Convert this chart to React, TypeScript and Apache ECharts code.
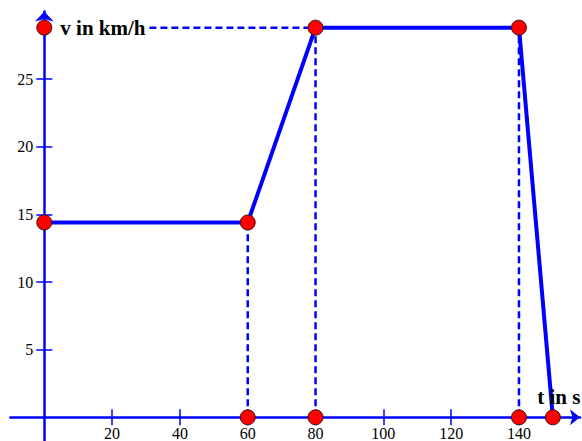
import React, { useEffect, useRef } from "react";
import * as echarts from "echarts";

// Data
const profileT = [0, 60, 80, 140, 150];
const profileV = [14.4, 14.4, 28.8, 28.8, 0];
const dotPoints: [number, number][] = [
  [0, 28.8],
  [0, 14.4],
  [60, 14.4],
  [80, 28.8],
  [140, 28.8],
  [60, 0],
  [80, 0],
  [140, 0],
  [150, 0],
];
const dashedSegments: [number, number][][] = [
  [[60, 0], [60, 14.4]],
  [[80, 0], [80, 28.8]],
  [[140, 0], [140, 28.8]],
  [[31, 28.8], [80, 28.8]],
];
const xTickValues = [20, 40, 60, 80, 100, 120, 140];
const yTickValues = [5, 10, 15, 20, 25];
const yLabelText = "v in km/h";
const xLabelText = "t in s";

const BLUE = "#0000ff";
const FONT = "Liberation Serif";

// axis extents (beyond zero, as in the reference)
const X_MIN = -10;
const X_MAX = 158;
const Y_MIN = -1.75;
const Y_MAX = 30;

const W = 582;
const H = 441;
const GRID_LEFT = 10.4;
const GRID_RIGHT = 2;
const GRID_TOP = 11.4;
const GRID_BOTTOM = 0;

export default function App() {
  const ref = useRef<HTMLDivElement>(null);
  useEffect(() => {
    if (!ref.current) return;
    const chart = echarts.init(ref.current, undefined, { renderer: "svg" });

    const gridW = W - GRID_LEFT - GRID_RIGHT;
    const gridH = H - GRID_TOP - GRID_BOTTOM;
    // offsets that move each axis from the grid edge onto the other axis's zero
    const xAxisOffset = -((0 - Y_MIN) / (Y_MAX - Y_MIN)) * gridH;
    const yAxisOffset = -((0 - X_MIN) / (X_MAX - X_MIN)) * gridW;

    const axisCommon = {
      type: "value" as const,
      splitLine: { show: false },
    };

    const option: any = {
      animation: false,
      backgroundColor: "#ffffff",
      grid: {
        left: GRID_LEFT,
        right: GRID_RIGHT,
        top: GRID_TOP,
        bottom: GRID_BOTTOM,
        containLabel: false,
        outerBoundsMode: "none",
      },
      xAxis: [
        {
          ...axisCommon,
          min: X_MIN,
          max: X_MAX,
          position: "bottom",
          offset: xAxisOffset,
          axisLine: {
            show: true,
            onZero: false,
            symbol: ["none", "arrow"],
            symbolSize: [12, 10],
            lineStyle: { color: BLUE, width: 2.5 },
          },
          axisTick: {
            show: true,
            inside: false,
            length: 8,
            customValues: xTickValues,
            lineStyle: { color: BLUE, width: 1.5 },
          },
          axisLabel: {
            show: true,
            customValues: xTickValues,
            margin: 8,
            color: "#000",
            fontFamily: FONT,
            fontSize: 16,
          },
        },
        {
          ...axisCommon,
          min: X_MIN,
          max: X_MAX,
          position: "bottom",
          offset: xAxisOffset,
          axisLine: { show: false, onZero: false },
          axisTick: {
            show: true,
            inside: true,
            length: 8,
            customValues: xTickValues,
            lineStyle: { color: BLUE, width: 1.5 },
          },
          axisLabel: { show: false },
        },
      ],
      yAxis: [
        {
          ...axisCommon,
          min: Y_MIN,
          max: Y_MAX,
          position: "left",
          offset: yAxisOffset,
          axisLine: {
            show: true,
            onZero: false,
            symbol: ["none", "arrow"],
            symbolSize: [14, 10],
            lineStyle: { color: BLUE, width: 2.5 },
          },
          axisTick: {
            show: true,
            inside: false,
            length: 8,
            customValues: yTickValues,
            lineStyle: { color: BLUE, width: 1.5 },
          },
          axisLabel: {
            show: true,
            customValues: yTickValues,
            margin: 11,
            color: "#000",
            fontFamily: FONT,
            fontSize: 16,
          },
        },
        {
          ...axisCommon,
          min: Y_MIN,
          max: Y_MAX,
          position: "left",
          offset: yAxisOffset,
          axisLine: { show: false, onZero: false },
          axisTick: {
            show: true,
            inside: true,
            length: 8,
            customValues: yTickValues,
            lineStyle: { color: BLUE, width: 1.5 },
          },
          axisLabel: { show: false },
        },
      ],
      series: [
        ...dashedSegments.map((seg) => ({
          type: "line",
          xAxisIndex: 0,
          yAxisIndex: 0,
          data: seg,
          showSymbol: false,
          symbol: "none",
          z: 2,
          lineStyle: { color: BLUE, width: 2.5, type: [7, 4] },
          silent: true,
        })),
        {
          type: "line",
          xAxisIndex: 0,
          yAxisIndex: 0,
          data: profileT.map((t, i) => [t, profileV[i]]),
          symbol: "none",
          z: 3,
          lineStyle: { color: BLUE, width: 4 },
        },
        {
          type: "scatter",
          xAxisIndex: 0,
          yAxisIndex: 0,
          z: 5,
          symbol: "circle",
          symbolSize: 15,
          itemStyle: { color: "#ff0000", borderColor: "#3a1010", borderWidth: 1, opacity: 1 },
          data: dotPoints.map((p, i) => {
            const item: any = { value: p };
            if (i === 0) {
              item.label = {
                show: true,
                formatter: yLabelText,
                position: "right",
                distance: 8,
                color: "#000",
                fontFamily: FONT,
                fontWeight: "bold",
                fontSize: 21,
                backgroundColor: "#fff",
              };
            }
            if (i === dotPoints.length - 1) {
              item.label = {
                show: true,
                formatter: xLabelText,
                position: "top",
                distance: 2,
                offset: [6, 0],
                color: "#000",
                fontFamily: FONT,
                fontWeight: "bold",
                fontSize: 21,
              };
            }
            return item;
          }),
        },
      ],
    };

    chart.setOption(option);
    return () => chart.dispose();
  }, []);

  return (
    <div
      ref={ref}
      style={{ position: "fixed", left: 0, top: 0, width: W, height: H, background: "#fff" }}
    />
  );
}
